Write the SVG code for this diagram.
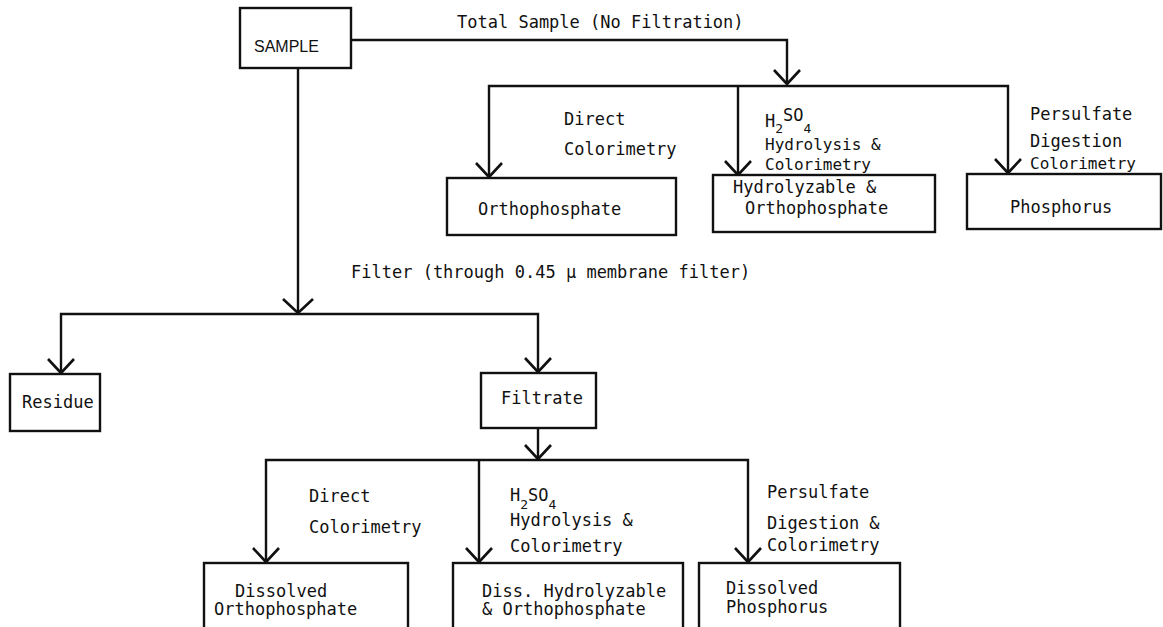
<svg xmlns="http://www.w3.org/2000/svg" width="1163" height="627" viewBox="0 0 1163 627">
<style>
.box{fill:#fff;stroke:#111;stroke-width:2.4}
.ln{fill:none;stroke:#111;stroke-width:2.4;stroke-linejoin:miter}
.ah{fill:none;stroke:#111;stroke-width:2.6}
text{font-family:"DejaVu Sans Mono","Liberation Mono",monospace;font-size:17px;fill:#111}
.sm{font-size:13px}
.tight{font-size:16px}
.sans{font-family:"Liberation Sans","DejaVu Sans",sans-serif;font-size:16px}
</style>
<rect width="1163" height="627" fill="#fff"/>
<g id="connectors">
<path class="ln" d="M351,40 H787 V84"/>
<path class="ln" d="M489,177 V86 H1008 V173"/>
<path class="ln" d="M738,86 V175"/>
<path class="ln" d="M298,68 V313"/>
<path class="ln" d="M61,373 V314 H538 V372"/>
<path class="ln" d="M538,428 V459"/>
<path class="ln" d="M266,562 V460 H748 V562"/>
<path class="ln" d="M479,460 V562"/>
<path class="ah" d="M774,70 L787,84 L800,70"/>
<path class="ah" d="M476,163 L489,177 L502,163"/>
<path class="ah" d="M725,161 L738,175 L751,161"/>
<path class="ah" d="M995,159 L1008,173 L1021,159"/>
<path class="ah" d="M283,299 L298,313 L313,299"/>
<path class="ah" d="M48,359 L61,373 L74,359"/>
<path class="ah" d="M525,358 L538,372 L551,358"/>
<path class="ah" d="M525,445 L538,459 L551,445"/>
<path class="ah" d="M253,548 L266,562 L279,548"/>
<path class="ah" d="M466,548 L479,562 L492,548"/>
<path class="ah" d="M735,548 L748,562 L761,548"/>
<text x="457" y="28">Total Sample (No Filtration)</text>
<text x="564" y="125">Direct</text>
<text x="564" y="155">Colorimetry</text>
<text x="765" y="127">H<tspan class="sm" y="133">2</tspan><tspan y="121">SO</tspan><tspan class="sm" y="133">4</tspan></text>
<text class="tight" x="765" y="150">Hydrolysis &amp;</text>
<text class="tight" x="765" y="170">Colorimetry</text>
<text x="1030" y="120">Persulfate</text>
<text x="1030" y="147">Digestion</text>
<text class="tight" x="1030" y="169">Colorimetry</text>
<text x="351" y="278">Filter (through 0.45 μ membrane filter)</text>
<text x="309" y="502">Direct</text>
<text x="309" y="533">Colorimetry</text>
<text x="510" y="501">H<tspan class="sm" y="509">2</tspan><tspan y="501">SO</tspan><tspan class="sm" y="509">4</tspan></text>
<text x="510" y="526">Hydrolysis &amp;</text>
<text x="510" y="552">Colorimetry</text>
<text x="767" y="498">Persulfate</text>
<text x="767" y="529">Digestion &amp;</text>
<text x="767" y="551">Colorimetry</text>
</g>
<g id="sample"><rect class="box" x="240" y="8" width="111" height="60"/><text class="sans" x="254" y="52">SAMPLE</text></g>
<g id="orthophosphate"><rect class="box" x="447" y="178" width="229" height="57"/><text x="478" y="215">Orthophosphate</text></g>
<g id="hydrolyzable"><rect class="box" x="713" y="175" width="222" height="57"/><text x="733" y="193">Hydrolyzable &amp;</text><text x="745" y="214">Orthophosphate</text></g>
<g id="phosphorus"><rect class="box" x="967" y="174" width="194" height="55"/><text x="1010" y="213">Phosphorus</text></g>
<g id="residue"><rect class="box" x="10" y="374" width="90" height="57"/><text x="22" y="408">Residue</text></g>
<g id="filtrate"><rect class="box" x="481" y="373" width="115" height="55"/><text x="501" y="404">Filtrate</text></g>
<g id="diss-ortho"><rect class="box" x="204" y="563" width="204" height="80"/><text x="235" y="597">Dissolved</text><text x="214" y="615">Orthophosphate</text></g>
<g id="diss-hydro"><rect class="box" x="453" y="563" width="230" height="80"/><text x="482" y="597">Diss. Hydrolyzable</text><text x="482" y="615">&amp; Orthophosphate</text></g>
<g id="diss-phos"><rect class="box" x="699" y="563" width="201" height="80"/><text x="726" y="594">Dissolved</text><text x="726" y="613">Phosphorus</text></g>
</svg>
